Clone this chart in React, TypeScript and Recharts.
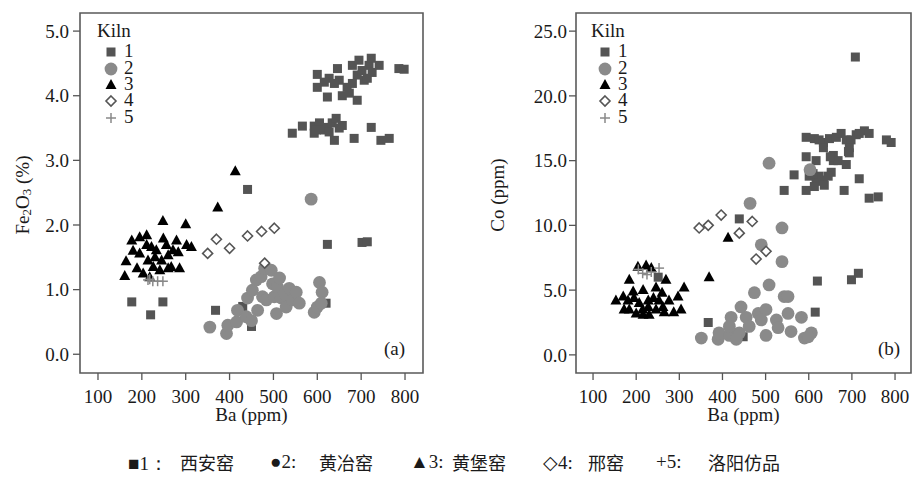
import { ScatterChart, Scatter, XAxis, YAxis, ReferenceArea } from 'recharts';

// [Ba (ppm), value] pairs
// panel (a): Fe2O3 (%)
const feKiln1 = [
  [600, 4.33], [600, 4.13], [623, 3.98], [627, 4.27], [646, 4.42], [650, 4.24], [657, 4.0], [668, 4.13],
  [680, 4.47], [691, 4.32], [695, 4.55], [707, 4.24], [718, 4.47], [723, 4.58], [741, 4.47], [691, 3.93],
  [786, 4.42], [798, 4.41], [673, 4.04], [680, 4.19], [702, 4.39], [725, 4.36], [714, 4.27], [639, 4.19],
  [616, 4.21], [543, 3.42], [566, 3.53], [593, 3.53], [593, 3.42], [605, 3.58], [616, 3.47], [623, 3.51],
  [634, 3.58], [639, 3.31], [643, 3.65], [657, 3.54], [684, 3.34], [723, 3.51], [745, 3.31], [764, 3.34],
  [598, 3.47], [627, 3.44], [650, 3.5], [441, 2.55], [623, 1.7], [702, 1.73], [714, 1.74], [177, 0.81],
  [248, 0.81], [220, 0.61], [368, 0.68], [620, 0.79], [450, 0.43], [430, 0.74],
];
const feKiln2 = [
  [586, 2.4], [355, 0.42], [393, 0.32], [396, 0.45], [416, 0.5], [418, 0.68], [438, 0.58], [450, 0.52],
  [441, 0.87], [452, 0.99], [464, 0.68], [461, 1.15], [472, 1.2], [480, 1.33], [475, 0.89], [484, 0.84],
  [495, 1.3], [498, 1.09], [502, 0.89], [507, 0.63], [509, 1.04], [518, 0.87], [525, 0.94], [529, 0.73],
  [536, 1.02], [543, 0.84], [552, 0.96], [559, 0.79], [593, 0.65], [600, 0.73], [605, 1.11], [611, 0.96],
  [609, 0.79], [514, 1.18],
];
const feKiln3 = [
  [413, 2.83], [373, 2.27], [248, 2.06], [300, 2.01], [161, 1.21], [164, 1.44], [180, 1.6], [195, 1.81],
  [211, 1.84], [214, 1.45], [203, 1.25], [222, 1.66], [233, 1.61], [226, 1.35], [241, 1.3], [249, 1.79],
  [256, 1.69], [260, 1.53], [267, 1.35], [271, 1.61], [279, 1.76], [283, 1.58], [260, 1.33], [286, 1.33],
  [302, 1.69], [313, 1.66], [211, 1.69], [195, 1.56], [189, 1.33], [230, 1.5], [245, 1.45], [218, 1.19],
  [177, 1.76],
];
const feKiln4 = [[350, 1.56], [370, 1.78], [400, 1.64], [441, 1.83], [473, 1.9], [502, 1.95], [480, 1.41]];
const feKiln5 = [[214, 1.15], [225, 1.13], [236, 1.13], [248, 1.13], [218, 1.16]];

// panel (b): Co (ppm)
const coKiln1 = [
  [708, 23.0], [594, 16.8], [613, 16.7], [624, 16.6], [634, 16.4], [648, 16.7], [664, 16.8], [675, 17.1],
  [687, 16.6], [698, 16.6], [710, 17.0], [717, 17.1], [729, 17.3], [740, 17.1], [780, 16.6], [791, 16.4],
  [694, 16.0], [694, 15.6], [634, 16.0], [657, 15.4], [594, 15.3], [617, 15.0], [657, 15.0], [668, 15.0],
  [687, 14.7], [652, 14.1], [717, 13.6], [566, 13.9], [543, 12.7], [594, 12.7], [682, 12.7], [740, 12.1],
  [761, 12.2], [601, 13.8], [617, 13.4], [634, 13.5], [645, 13.8], [613, 13.0], [636, 13.1], [624, 13.8],
  [610, 14.0], [650, 15.3], [692, 15.7], [439, 10.5], [251, 6.0], [620, 5.7], [699, 5.8], [715, 6.3],
  [615, 3.3], [367, 2.5], [448, 1.4], [483, 3.2],
];
const coKiln2 = [
  [508, 14.8], [603, 14.3], [464, 11.7], [538, 9.8], [490, 8.5], [538, 7.2], [508, 5.4], [474, 4.8],
  [543, 4.5], [552, 4.5], [443, 3.7], [420, 2.9], [455, 2.9], [483, 3.2], [501, 3.5], [525, 2.7],
  [552, 3.2], [583, 2.9], [351, 1.3], [390, 1.2], [392, 1.7], [416, 1.5], [439, 1.7], [462, 2.2],
  [432, 1.2], [501, 1.5], [529, 2.1], [559, 1.8], [590, 1.3], [606, 1.7], [599, 1.4], [490, 2.7],
  [416, 2.2],
];
const coKiln3 = [
  [413, 9.05], [369, 6.0], [153, 4.2], [184, 5.8], [204, 6.8], [223, 6.9], [235, 6.7], [269, 5.8],
  [311, 5.2], [297, 4.5], [304, 3.5], [287, 3.3], [170, 4.5], [184, 3.5], [200, 3.2], [216, 3.1],
  [230, 3.1], [246, 3.5], [262, 3.7], [276, 4.2], [193, 4.9], [216, 5.0], [246, 5.2], [228, 4.2],
  [253, 4.2], [207, 4.0], [228, 3.7], [181, 4.2], [172, 3.5], [260, 4.8], [195, 4.4], [240, 4.4],
  [215, 3.5], [265, 3.3],
];
const coKiln4 = [[346, 9.8], [367, 10.0], [397, 10.8], [469, 10.3], [439, 9.4], [478, 7.4], [501, 8.0]];
const coKiln5 = [[205, 6.6], [215, 6.3], [225, 6.2], [235, 6.4], [253, 6.7]];

const baTicks = [100, 200, 300, 400, 500, 600, 700, 800];
const feTicks = [0, 1, 2, 3, 4, 5];
const coTicks = [0, 5, 10, 15, 20, 25];
const kilnIds = ['1', '2', '3', '4', '5'];
const captionMarks = ['■1：', '●2:', '▲3:', '◇4:', '+5:'];
const captionNames = ['西安窑', '黄冶窑', '黄堡窑', '邢窑', '洛阳仿品'];

const serif = "'Liberation Serif', 'Times New Roman', serif";
const cjk = "'Noto Sans CJK SC', 'Noto Sans CJK JP', sans-serif";
const ink = '#1a1a1a';

const toPts = (rows: number[][]) => rows.map(([ba, v]) => ({ ba, v }));

// marker shapes
const Square = ({ cx, cy }: any) => <rect x={cx - 4.5} y={cy - 4.5} width={9} height={9} fill="#545454" />;
const Dot = ({ cx, cy }: any) => <circle cx={cx} cy={cy} r={6.4} fill="#8a8a8a" />;
const Tri = ({ cx, cy }: any) => (
  <path d={`M${cx},${cy - 6}L${cx + 5.5},${cy + 4}L${cx - 5.5},${cy + 4}Z`} fill="#000" />
);
const Diamond = ({ cx, cy }: any) => (
  <path d={`M${cx},${cy - 5}L${cx + 5},${cy}L${cx},${cy + 5}L${cx - 5},${cy}Z`} fill="#fff" stroke="#555" strokeWidth={1.6} />
);
const Plus = ({ cx, cy }: any) => (
  <g stroke="#888" strokeWidth={1.5}>
    <line x1={cx - 5} y1={cy} x2={cx + 5} y2={cy} />
    <line x1={cx} y1={cy - 5} x2={cx} y2={cy + 5} />
  </g>
);
const shapes = [Square, Dot, Tri, Diamond, Plus];

type PanelProps = {
  left: number;
  yWidth: number;
  rightMargin: number;
  xDomain: number[];
  yDomain: number[];
  yTicks: number[];
  yTickMargin: number;
  series: number[][][];
  yLabel: any;
  yLabelX: number;
  tag: string;
  tagX: number;
  legendX: number;
};

function Panel(p: PanelProps) {
  const tickStyle = { fontFamily: serif, fontSize: 19, fill: ink };
  return (
    <div style={{ position: 'absolute', left: p.left, top: 0, width: 456, height: 430 }}>
      <ScatterChart width={456} height={430} margin={{ top: 13, right: p.rightMargin, bottom: 0, left: 0 }}>
        <XAxis
          type="number"
          dataKey="ba"
          domain={p.xDomain}
          ticks={baTicks}
          allowDataOverflow
          axisLine={false}
          tickLine={{ stroke: '#555', strokeWidth: 1.3 }}
          tickSize={7}
          tickMargin={10}
          tick={tickStyle}
          height={57}
          interval={0}
          label={(lp: any) => {
            const vb = lp.viewBox || { x: 0, width: 0 };
            return (
              <text x={vb.x + vb.width / 2} y={421} textAnchor="middle" fontFamily={serif} fontSize={19} fill={ink}>
                Ba (ppm)
              </text>
            );
          }}
        />
        <YAxis
          type="number"
          dataKey="v"
          domain={p.yDomain}
          ticks={p.yTicks}
          allowDataOverflow
          width={p.yWidth}
          axisLine={false}
          tickLine={{ stroke: '#555', strokeWidth: 1.3 }}
          tickSize={7}
          tickMargin={p.yTickMargin}
          tick={tickStyle}
          interval={0}
          tickFormatter={(v: number) => v.toFixed(1)}
          label={() => (
            <text
              x={p.yLabelX}
              y={195}
              transform={`rotate(-90 ${p.yLabelX} 195)`}
              textAnchor="middle"
              dominantBaseline="central"
              fontFamily={serif}
              fontSize={19}
              fill={ink}
            >
              {p.yLabel}
            </text>
          )}
        />
        {p.series.map((rows, i) => (
          <Scatter key={i} data={toPts(rows)} shape={shapes[i]} isAnimationActive={false} />
        ))}
        <ReferenceArea
          x1={p.xDomain[0]}
          x2={p.xDomain[1]}
          y1={p.yDomain[0]}
          y2={p.yDomain[1]}
          fill="none"
          fillOpacity={0}
          stroke="#5a5a5a"
          strokeWidth={1.6}
          ifOverflow="visible"
        />
      </ScatterChart>
      <svg width={456} height={430} style={{ position: 'absolute', left: 0, top: 0, pointerEvents: 'none' }}>
        <g fontFamily={serif} fontSize={19} fill={ink}>
          <text x={p.legendX} y={37}>Kiln</text>
          {kilnIds.map((id, i) => {
            const Shape = shapes[i];
            const cy = [52, 69, 85, 101, 118][i];
            return (
              <g key={id}>
                <Shape cx={p.legendX + 14} cy={cy} />
                <text x={p.legendX + 27} y={[57, 74, 90, 106, 123][i]}>{id}</text>
              </g>
            );
          })}
          <text x={p.tagX} y={355}>{p.tag}</text>
        </g>
      </svg>
    </div>
  );
}

const feLabel = (
  <>
    <tspan>Fe</tspan>
    <tspan dy={4} fontSize={13}>2</tspan>
    <tspan dy={-4}>O</tspan>
    <tspan dy={4} fontSize={13}>3</tspan>
    <tspan dy={-4}> (%)</tspan>
  </>
);

export default function App() {
  const markLeft = [128, 270, 410, 543, 656];
  const nameLeft = [180, 319, 452, 588, 708];
  return (
    <div style={{ position: 'absolute', left: 0, top: 0, width: 912, height: 481, background: '#fff', overflow: 'hidden' }}>
      <Panel
        left={0}
        yWidth={80}
        rightMargin={33}
        xDomain={[59, 841]}
        yDomain={[-0.29, 5.28]}
        yTicks={feTicks}
        yTickMargin={4}
        series={[feKiln1, feKiln2, feKiln3, feKiln4, feKiln5]}
        yLabel={feLabel}
        yLabelX={22}
        tag="(a)"
        tagX={384}
        legendX={97}
      />
      <Panel
        left={456}
        yWidth={120}
        rightMargin={1}
        xDomain={[60.5, 837]}
        yDomain={[-1.4, 26.4]}
        yTicks={coTicks}
        yTickMargin={2}
        series={[coKiln1, coKiln2, coKiln3, coKiln4, coKiln5]}
        yLabel="Co (ppm)"
        yLabelX={41}
        tag="(b)"
        tagX={422}
        legendX={135}
      />
      {captionMarks.map((m, i) => (
        <div key={m}>
          <span style={{ position: 'absolute', left: markLeft[i], top: 451, fontFamily: serif, fontSize: 19, color: ink, whiteSpace: 'pre' }}>
            {m}
          </span>
          <span style={{ position: 'absolute', left: nameLeft[i], top: 450, fontFamily: cjk, fontSize: 18, color: ink, whiteSpace: 'pre', lineHeight: '24px' }}>
            {captionNames[i]}
          </span>
        </div>
      ))}
    </div>
  );
}
